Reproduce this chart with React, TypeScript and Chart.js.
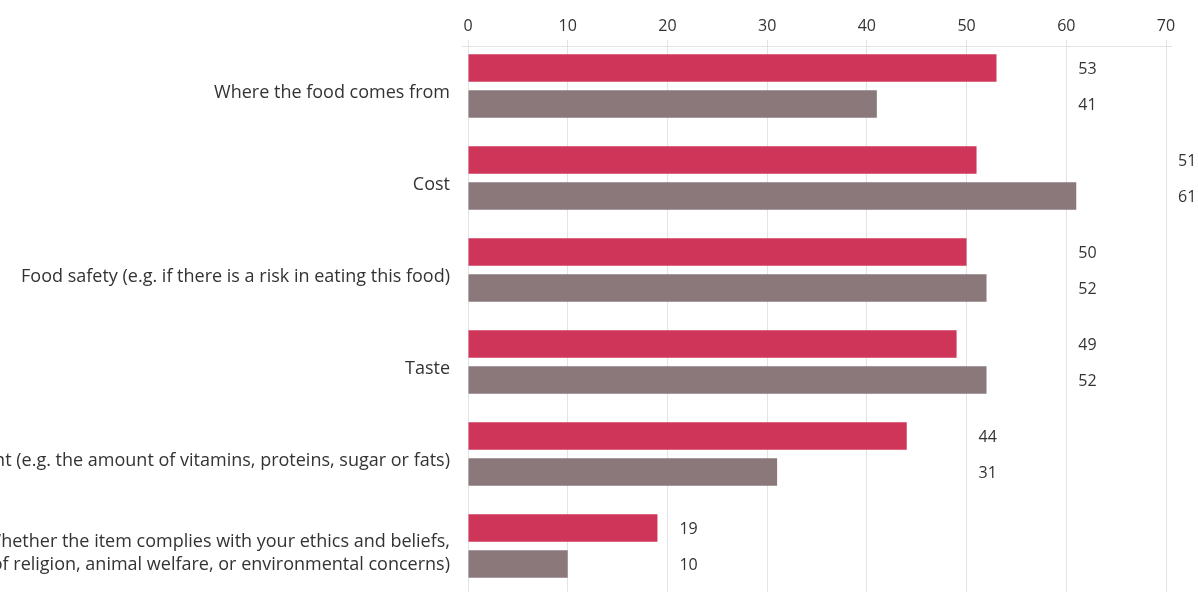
import React, { useEffect, useRef } from "react";
import { Chart, registerables } from "chart.js";

Chart.register(...registerables);

const categories: (string | string[])[] = [
  "Where the food comes from",
  "Cost",
  "Food safety (e.g. if there is a risk in eating this food)",
  "Taste",
  "Nutritional content (e.g. the amount of vitamins, proteins, sugar or fats)",
  [
    "Whether the item complies with your ethics and beliefs,",
    "(e.g. in terms of religion, animal welfare, or environmental concerns)",
  ],
];
const seriesA: number[] = [53, 51, 50, 49, 44, 19];
const seriesB: number[] = [41, 61, 52, 52, 31, 10];
const seriesNames: string[] = ["Series A", "Series B"];
const xTicks: number[] = [0, 10, 20, 30, 40, 50, 60, 70];

const RED = "#cf3559";
const GREY = "#8a787b";
const GRID = "#e3e3e3";
const TEXT = "#333333";
const FONT = "'Open Sans', sans-serif";

const extrasPlugin = {
  id: "extras",
  beforeDatasetsDraw(chart: any) {
    const { ctx, chartArea } = chart;
    ctx.save();
    ctx.strokeStyle = GRID;
    ctx.lineWidth = 1;
    ctx.beginPath();
    const y = Math.round(chartArea.top + 6) + 0.5;
    ctx.moveTo(chartArea.left - 6, y);
    ctx.lineTo(chartArea.right + 6, y);
    ctx.stroke();
    ctx.restore();
  },
  afterDatasetsDraw(chart: any) {
    const { ctx } = chart;
    const xs = chart.scales.x;
    ctx.save();
    ctx.font = `16px ${FONT}`;
    ctx.fillStyle = TEXT;
    ctx.textAlign = "left";
    ctx.textBaseline = "middle";
    const metaA = chart.getDatasetMeta(0);
    const metaB = chart.getDatasetMeta(1);
    categories.forEach((_, i) => {
      const max = Math.max(seriesA[i], seriesB[i]);
      const col = Math.ceil(max / 10) * 10;
      const x = xs.getPixelForValue(col) + 12;
      ctx.fillText(String(seriesA[i]), x, metaA.data[i].y + 1);
      ctx.fillText(String(seriesB[i]), x, metaB.data[i].y + 1);
    });
    ctx.restore();
  },
};

export default function App() {
  const ref = useRef<HTMLCanvasElement | null>(null);
  useEffect(() => {
    if (!ref.current) return;
    const chart = new Chart(ref.current, {
      type: "bar",
      data: {
        labels: categories,
        datasets: [
          {
            label: seriesNames[0],
            data: seriesA,
            backgroundColor: RED,
            barPercentage: 0.764,
            categoryPercentage: 0.783,
          },
          {
            label: seriesNames[1],
            data: seriesB,
            backgroundColor: GREY,
            barPercentage: 0.764,
            categoryPercentage: 0.783,
          },
        ],
      },
      options: {
        indexAxis: "y",
        animation: false,
        responsive: true,
        maintainAspectRatio: false,
        layout: { padding: { left: 0, right: 74, top: 0, bottom: 28 } },
        plugins: { legend: { display: false }, tooltip: { enabled: false } },
        scales: {
          x: {
            position: "top",
            min: 0,
            max: 70,
            afterBuildTicks: (s: any) => {
              s.ticks = xTicks.map((v) => ({ value: v }));
            },
            afterFit: (s: any) => {
              s.height = 40;
            },
            grid: { color: GRID, drawTicks: false },
            border: { display: false },
            ticks: {
              padding: 4,
              color: TEXT,
              font: { family: FONT, size: 16 },
            },
          },
          y: {
            afterFit: (s: any) => {
              s.width = 768;
            },
            grid: { display: false },
            border: { display: false },
            ticks: {
              padding: 10,
              labelOffset: 7,
              color: TEXT,
              font: { family: FONT, size: 18, lineHeight: 1.28 },
            },
          },
        },
      },
      plugins: [extrasPlugin],
    });
    return () => chart.destroy();
  }, []);
  return (
    <div
      style={{
        position: "absolute",
        left: -300,
        top: 0,
        width: 1540,
        height: 620,
      }}
    >
      <canvas ref={ref} />
    </div>
  );
}
